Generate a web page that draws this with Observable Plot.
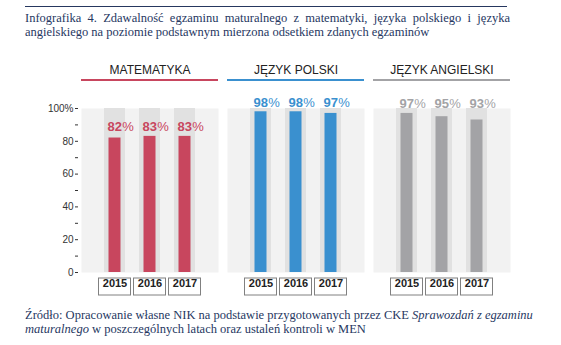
<!DOCTYPE html>
<html>
<head>
<meta charset="utf-8">
<script src="https://cdn.jsdelivr.net/npm/d3@7"></script>
<script src="https://cdn.jsdelivr.net/npm/@observablehq/plot@0.6"></script>
<style>
  html, body { margin: 0; padding: 0; background: #fff; }
  #wrap { position: relative; width: 561px; height: 345px; overflow: hidden; }
  #chart { position: absolute; left: 0; top: 0; }
  .rule { position: absolute; left: 25px; top: 6px; width: 482px; border-top: 1px solid #26375f; }
  .txt { position: absolute; left: 25px; width: 485px; font-family: "Liberation Serif", "DejaVu Serif", serif;
         font-size: 12.5px; line-height: 14px; color: #26375f; }
  .txt .j { text-align: justify; text-align-last: justify; white-space: nowrap; }
  .txt .l { text-align: left; white-space: nowrap; }
  #title { top: 11px; }
  #caption { top: 308px; }
</style>
</head>
<body>
<div id="wrap">
  <div id="chart"></div>
  <div class="rule"></div>
  <div id="title" class="txt">
    <div class="j">Infografika 4. Zdawalność egzaminu maturalnego z matematyki, języka polskiego i języka</div>
    <div class="l">angielskiego na poziomie podstawnym mierzona odsetkiem zdanych egzaminów</div>
  </div>
  <div id="caption" class="txt">
    <div class="j">Źródło: Opracowanie własne NIK na podstawie przygotowanych przez CKE <i>Sprawozdań z egzaminu</i></div>
    <div class="l"><i>maturalnego</i> w poszczególnych latach oraz ustaleń kontroli w MEN</div>
  </div>
</div>
<script>
const subjects = ["MATEMATYKA", "JĘZYK POLSKI", "JĘZYK ANGIELSKI"];
const years = ["2015", "2016", "2017"];
const matematyka = [82, 83, 83];
const polski = [98, 98, 97];
const angielski = [97, 95, 93];
const colors = ["#c8465e", "#3a90cf", "#a3a3a6"];
const yTicks = [0, 10, 20, 30, 40, 50, 60, 70, 80, 90, 100];
const yDomain = [0, 100];

const seriesValues = [matematyka, polski, angielski];
const rows = subjects.flatMap((s, i) => years.map((y, j) => ({
  subject: s, year: y, value: seriesValues[i][j], top: d3.max(seriesValues[i])
})));

const W = 561, H = 345, mT = 108, mB = 73, mL = 81, mR = 51;
const frameH = H - mT - mB;

const chart = Plot.plot({
  width: W, height: H,
  marginTop: mT, marginBottom: mB, marginLeft: mL, marginRight: mR,
  style: { fontFamily: "'Liberation Sans', Arial, sans-serif", background: "transparent", overflow: "visible" },
  fx: { domain: subjects, paddingInner: 0.062, paddingOuter: 0, axis: null, label: null },
  x: { domain: years, paddingInner: 0.41, paddingOuter: 0.63, axis: null, label: null },
  y: { domain: yDomain, axis: null, label: null },
  color: { domain: subjects, range: colors },
  marks: [
    Plot.frame({ fill: "#f2f2f2", stroke: "none" }),
    Plot.cell(rows, { x: "year", fx: "subject", fill: "#e1e1e1" }),
    Plot.barY(rows, { x: "year", y: "value", fx: "subject", fill: "subject", insetLeft: 4.5, insetRight: 4.5 }),
    Plot.text(rows, {
      x: "year", y: "top", fx: "subject", text: d => String(d.value), fill: "subject",
      textAnchor: "start", dx: -7.5, dy: -5, lineAnchor: "bottom", fontSize: 13, fontWeight: "bold"
    }),
    Plot.text(rows, {
      x: "year", y: "top", fx: "subject", text: () => "%", fill: "subject",
      textAnchor: "start", dx: 7.2, dy: -5, lineAnchor: "bottom", fontSize: 13
    }),
    Plot.ruleY(subjects, { fx: d => d, y: () => yDomain[1], dy: -28.5, stroke: d => d, strokeWidth: 2 }),
    Plot.text(subjects, {
      fx: d => d, text: d => d, frameAnchor: "top", dy: -35, lineAnchor: "bottom",
      fontSize: 12, fill: "#222"
    }),
    Plot.cell(rows, {
      x: "year", fx: "subject", fill: "white", stroke: "#808080",
      insetTop: frameH + 6, insetBottom: -23, insetLeft: -5.5, insetRight: -5.5
    }),
    Plot.text(rows, {
      x: "year", fx: "subject", text: "year", frameAnchor: "bottom", dy: 14.5,
      fontSize: 11, fontWeight: "bold", fill: "#222"
    }),
    Plot.axisY({
      ticks: yTicks, tickFormat: d => d === 100 ? "100%" : (d % 20 === 0 ? String(d) : ""),
      tickSize: 3, tickPadding: 2, dx: -3, fontSize: 10, color: "#333",
      facetAnchor: "left", label: null
    })
  ]
});
document.getElementById("chart").appendChild(chart);
</script>
</body>
</html>
